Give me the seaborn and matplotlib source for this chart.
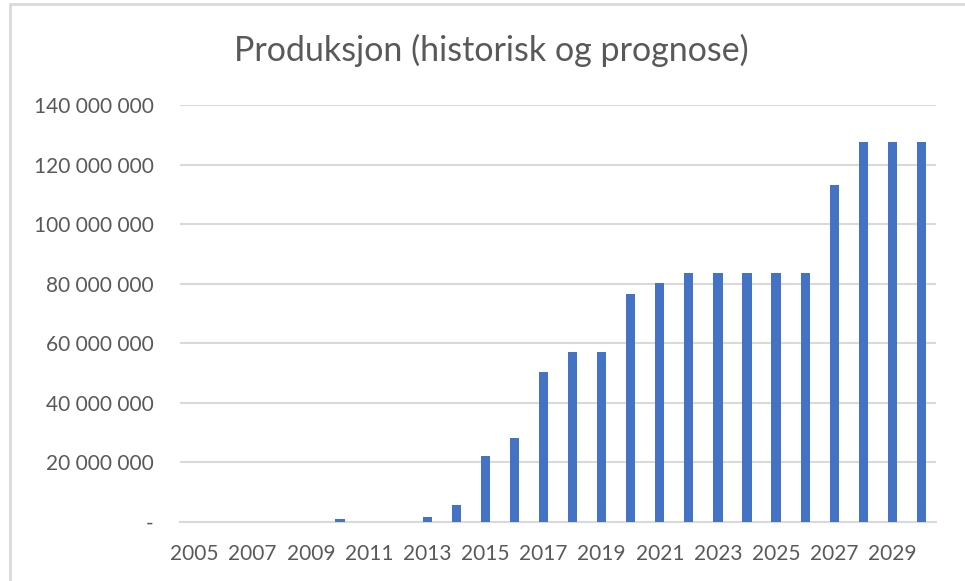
import matplotlib
matplotlib.use("Agg")
import matplotlib.pyplot as plt
import matplotlib.ticker as mticker
from matplotlib.lines import Line2D
import seaborn as sns
import pandas as pd

years = list(range(2005, 2031))
production = [
    0, 0, 0, 0, 0,
    900_000, 0, 0, 1_700_000, 5_700_000,
    22_200_000, 28_200_000, 50_400_000, 57_000_000, 57_000_000,
    76_600_000, 80_200_000, 83_600_000, 83_600_000, 83_600_000,
    83_600_000, 83_600_000, 113_000_000, 127_600_000, 127_600_000,
    127_600_000,
]
title = "Produksjon (historisk og prognose)"
y_ticks = [0, 20_000_000, 40_000_000, 60_000_000, 80_000_000,
           100_000_000, 120_000_000, 140_000_000]

sns.set_theme(style="white")
plt.rcParams["font.family"] = ["Lato", "DejaVu Sans"]

GRAY_TXT = "#595959"
GRID = "#d9d9d9"
BAR = "#4472C4"

df = pd.DataFrame({"year": [str(y) for y in years], "value": production})

W, H = 965, 581
fig = plt.figure(figsize=(W / 100, H / 100), dpi=100)
ax = fig.add_axes([180 / W, 1 - 522 / H, (936 - 180) / W, (522 - 105) / H])

sns.barplot(data=df, x="year", y="value", color=BAR, width=0.32,
            saturation=1, ax=ax, edgecolor="none")

ax.set_xlim(-0.5, len(years) - 0.5)
ax.set_ylim(0, 140_000_000)
ax.set_yticks(y_ticks)

def fmt(v, pos):
    if v == 0:
        return "-"
    return f"{int(v):,}".replace(",", " ")

ax.yaxis.set_major_formatter(mticker.FuncFormatter(fmt))
ax.set_xticks(range(0, len(years), 2))
ax.set_xticklabels([str(y) for y in years[::2]])

ax.grid(axis="y", color=GRID, linewidth=1.5)
ax.set_axisbelow(True)
for s in ["top", "right", "left"]:
    ax.spines[s].set_visible(False)
ax.spines["bottom"].set_color(GRID)
ax.spines["bottom"].set_linewidth(1.5)
ax.spines["bottom"].set_zorder(0.5)

ax.tick_params(axis="y", length=0, pad=19, labelsize=15, labelcolor=GRAY_TXT)
ax.tick_params(axis="x", length=0, pad=15.5, labelsize=15, labelcolor=GRAY_TXT)
ax.set_xlabel("")
ax.set_ylabel("")

fig.text(491 / W, 1 - 50 / H, title, ha="center", va="center",
         fontsize=24.5, color=GRAY_TXT, fontweight="normal")

# chart-area border (left and top edges visible)
fig.add_artist(Line2D([10 / W, 10 / W], [0, 1 - 4 / H], transform=fig.transFigure,
                      color=GRID, linewidth=2))
fig.add_artist(Line2D([10 / W, 1], [1 - 4 / H, 1 - 4 / H], transform=fig.transFigure,
                      color=GRID, linewidth=2))

fig.savefig("out.png", dpi=100, facecolor="white")
